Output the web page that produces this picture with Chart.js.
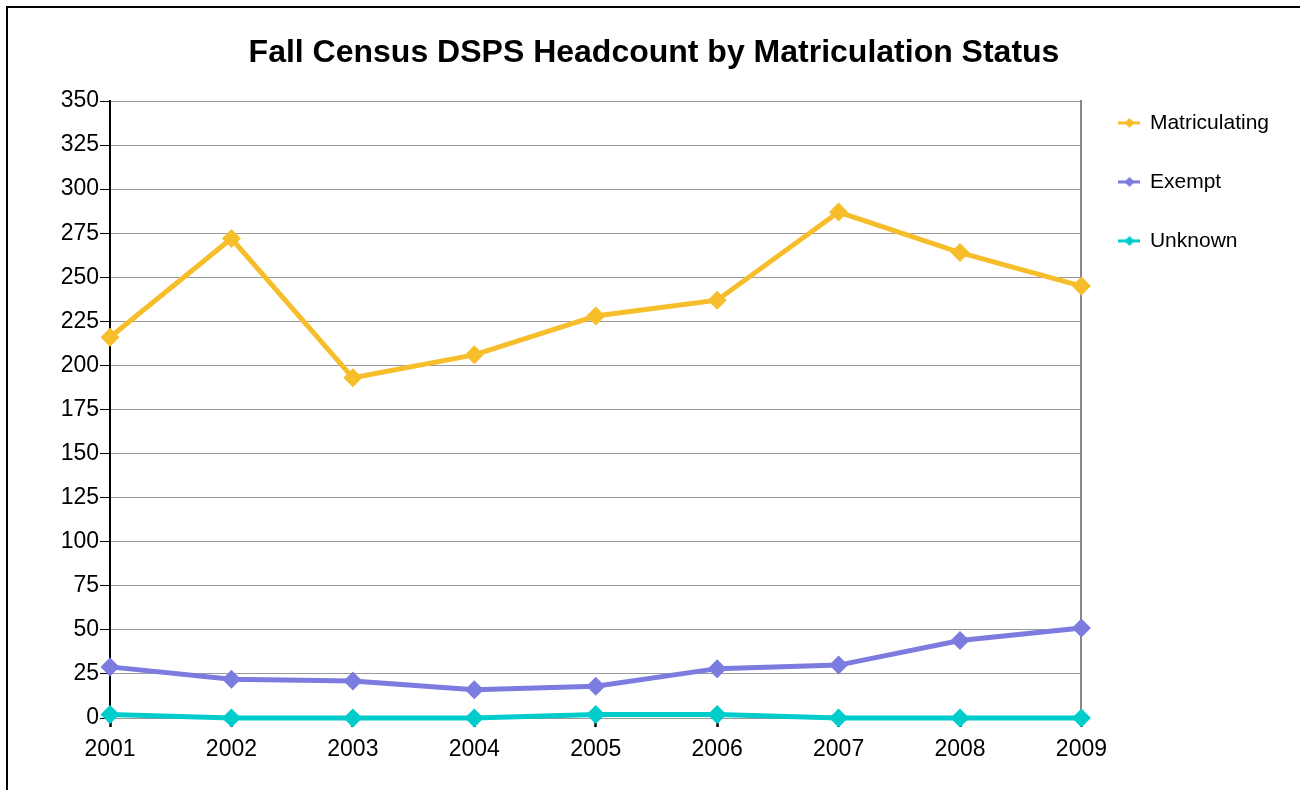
<!DOCTYPE html>
<html>
<head>
<meta charset="utf-8">
<script src="https://cdn.jsdelivr.net/npm/chart.js@4"></script>
<style>
  html, body { margin: 0; padding: 0; background: #fff; }
  #wrap { position: absolute; left: 0; top: 0; width: 1300px; height: 790px; }
  #frame { position: absolute; left: 6px; top: 6px; width: 1400px; height: 900px;
           border-left: 2px solid #000; border-top: 2px solid #000; pointer-events: none; }
</style>
</head>
<body>
<div id="wrap">
  <canvas id="census"></canvas>
</div>
<div id="frame"></div>
<script>
// Fall census DSPS headcount
const years = ['2001', '2002', '2003', '2004', '2005', '2006', '2007', '2008', '2009'];
const matriculating = [216, 272, 193, 206, 228, 237, 287, 264, 245];
const exempt = [29, 22, 21, 16, 18, 28, 30, 44, 51];
const unknown = [2, 0, 0, 0, 2, 2, 0, 0, 0];
const yTicks = [0, 25, 50, 75, 100, 125, 150, 175, 200, 225, 250, 275, 300, 325, 350];

const seriesNames = ['Matriculating', 'Exempt', 'Unknown'];
const seriesColors = ['#F7BE2B', '#7B7BE0', '#00CCCC'];

Chart.defaults.font.family = '"Liberation Sans", Arial, sans-serif';
Chart.defaults.color = '#000';

// small line + diamond used as the legend marker
function legendMarker(color) {
    const c = document.createElement('canvas');
    c.width = 22;
    c.height = 14;
    const g = c.getContext('2d');
    g.strokeStyle = color;
    g.lineWidth = 3;
    g.beginPath();
    g.moveTo(0, 7);
    g.lineTo(22, 7);
    g.stroke();
    g.fillStyle = color;
    g.beginPath();
    g.moveTo(11, 2);
    g.lineTo(16, 7);
    g.lineTo(11, 12);
    g.lineTo(6, 7);
    g.closePath();
    g.fill();
    return c;
}
const markers = seriesColors.map(legendMarker);

function makeSet(i, values) {
    return {
        label: seriesNames[i],
        data: values,
        borderColor: seriesColors[i],
        backgroundColor: seriesColors[i],
        borderWidth: 5,
        pointStyle: 'rectRot',
        pointRadius: 9.5,
        pointHoverRadius: 9.5,
        pointBorderWidth: 0,
        tension: 0,
        clip: false
    };
}

new Chart(document.getElementById('census'), {
    type: 'line',
    data: {
        labels: years,
        datasets: [
            makeSet(0, matriculating),
            makeSet(1, exempt),
            makeSet(2, unknown)
        ]
    },
    options: {
        responsive: true,
        maintainAspectRatio: false,
        animation: false,
        events: [],
        layout: { padding: { left: 29, right: 21, top: 0, bottom: 0 } },
        plugins: {
            tooltip: { enabled: false },
            title: {
                display: true,
                text: 'Fall Census DSPS Headcount by Matriculation Status',
                font: { size: 32, weight: 'bold' },
                color: '#000',
                padding: { top: 34, bottom: 28.6 }
            },
            legend: {
                position: 'right',
                align: 'start',
                title: { display: true, text: '', font: { size: 12 }, padding: { top: 60, bottom: 0 } },
                labels: {
                    usePointStyle: true,
                    pointStyleWidth: 20,
                    padding: 38,
                    font: { size: 21 },
                    color: '#000',
                    generateLabels(chart) {
                        const items = Chart.defaults.plugins.legend.labels.generateLabels(chart);
                        items.forEach((it, i) => { it.pointStyle = markers[i]; });
                        return items;
                    }
                }
            }
        },
        scales: {
            x: {
                z: 1,
                offset: false,
                border: { display: false },
                grid: {
                    drawOnChartArea: false,
                    tickColor: '#000',
                    tickLength: 9,
                    tickWidth: 2.5
                },
                ticks: { font: { size: 23 }, color: '#000', padding: 9, maxRotation: 0 },
                afterFit(scale) { scale.height = 72; }
            },
            y: {
                min: 0,
                max: 350,
                border: { display: true, color: '#000', width: 2 },
                grid: { color: '#999', lineWidth: 1, tickColor: '#000', tickLength: 10 },
                afterBuildTicks(scale) { scale.ticks = yTicks.map(v => ({ value: v })); },
                ticks: { font: { size: 23 }, color: '#000', padding: 1 },
                afterFit(scale) { scale.width = 81; }
            },
            yRight: {
                position: 'right',
                min: 0,
                max: 350,
                border: { display: true, color: '#888', width: 2 },
                grid: { drawOnChartArea: false, drawTicks: false },
                ticks: { display: false },
                afterFit(scale) { scale.width = 0; }
            }
        }
    }
});
</script>
</body>
</html>
